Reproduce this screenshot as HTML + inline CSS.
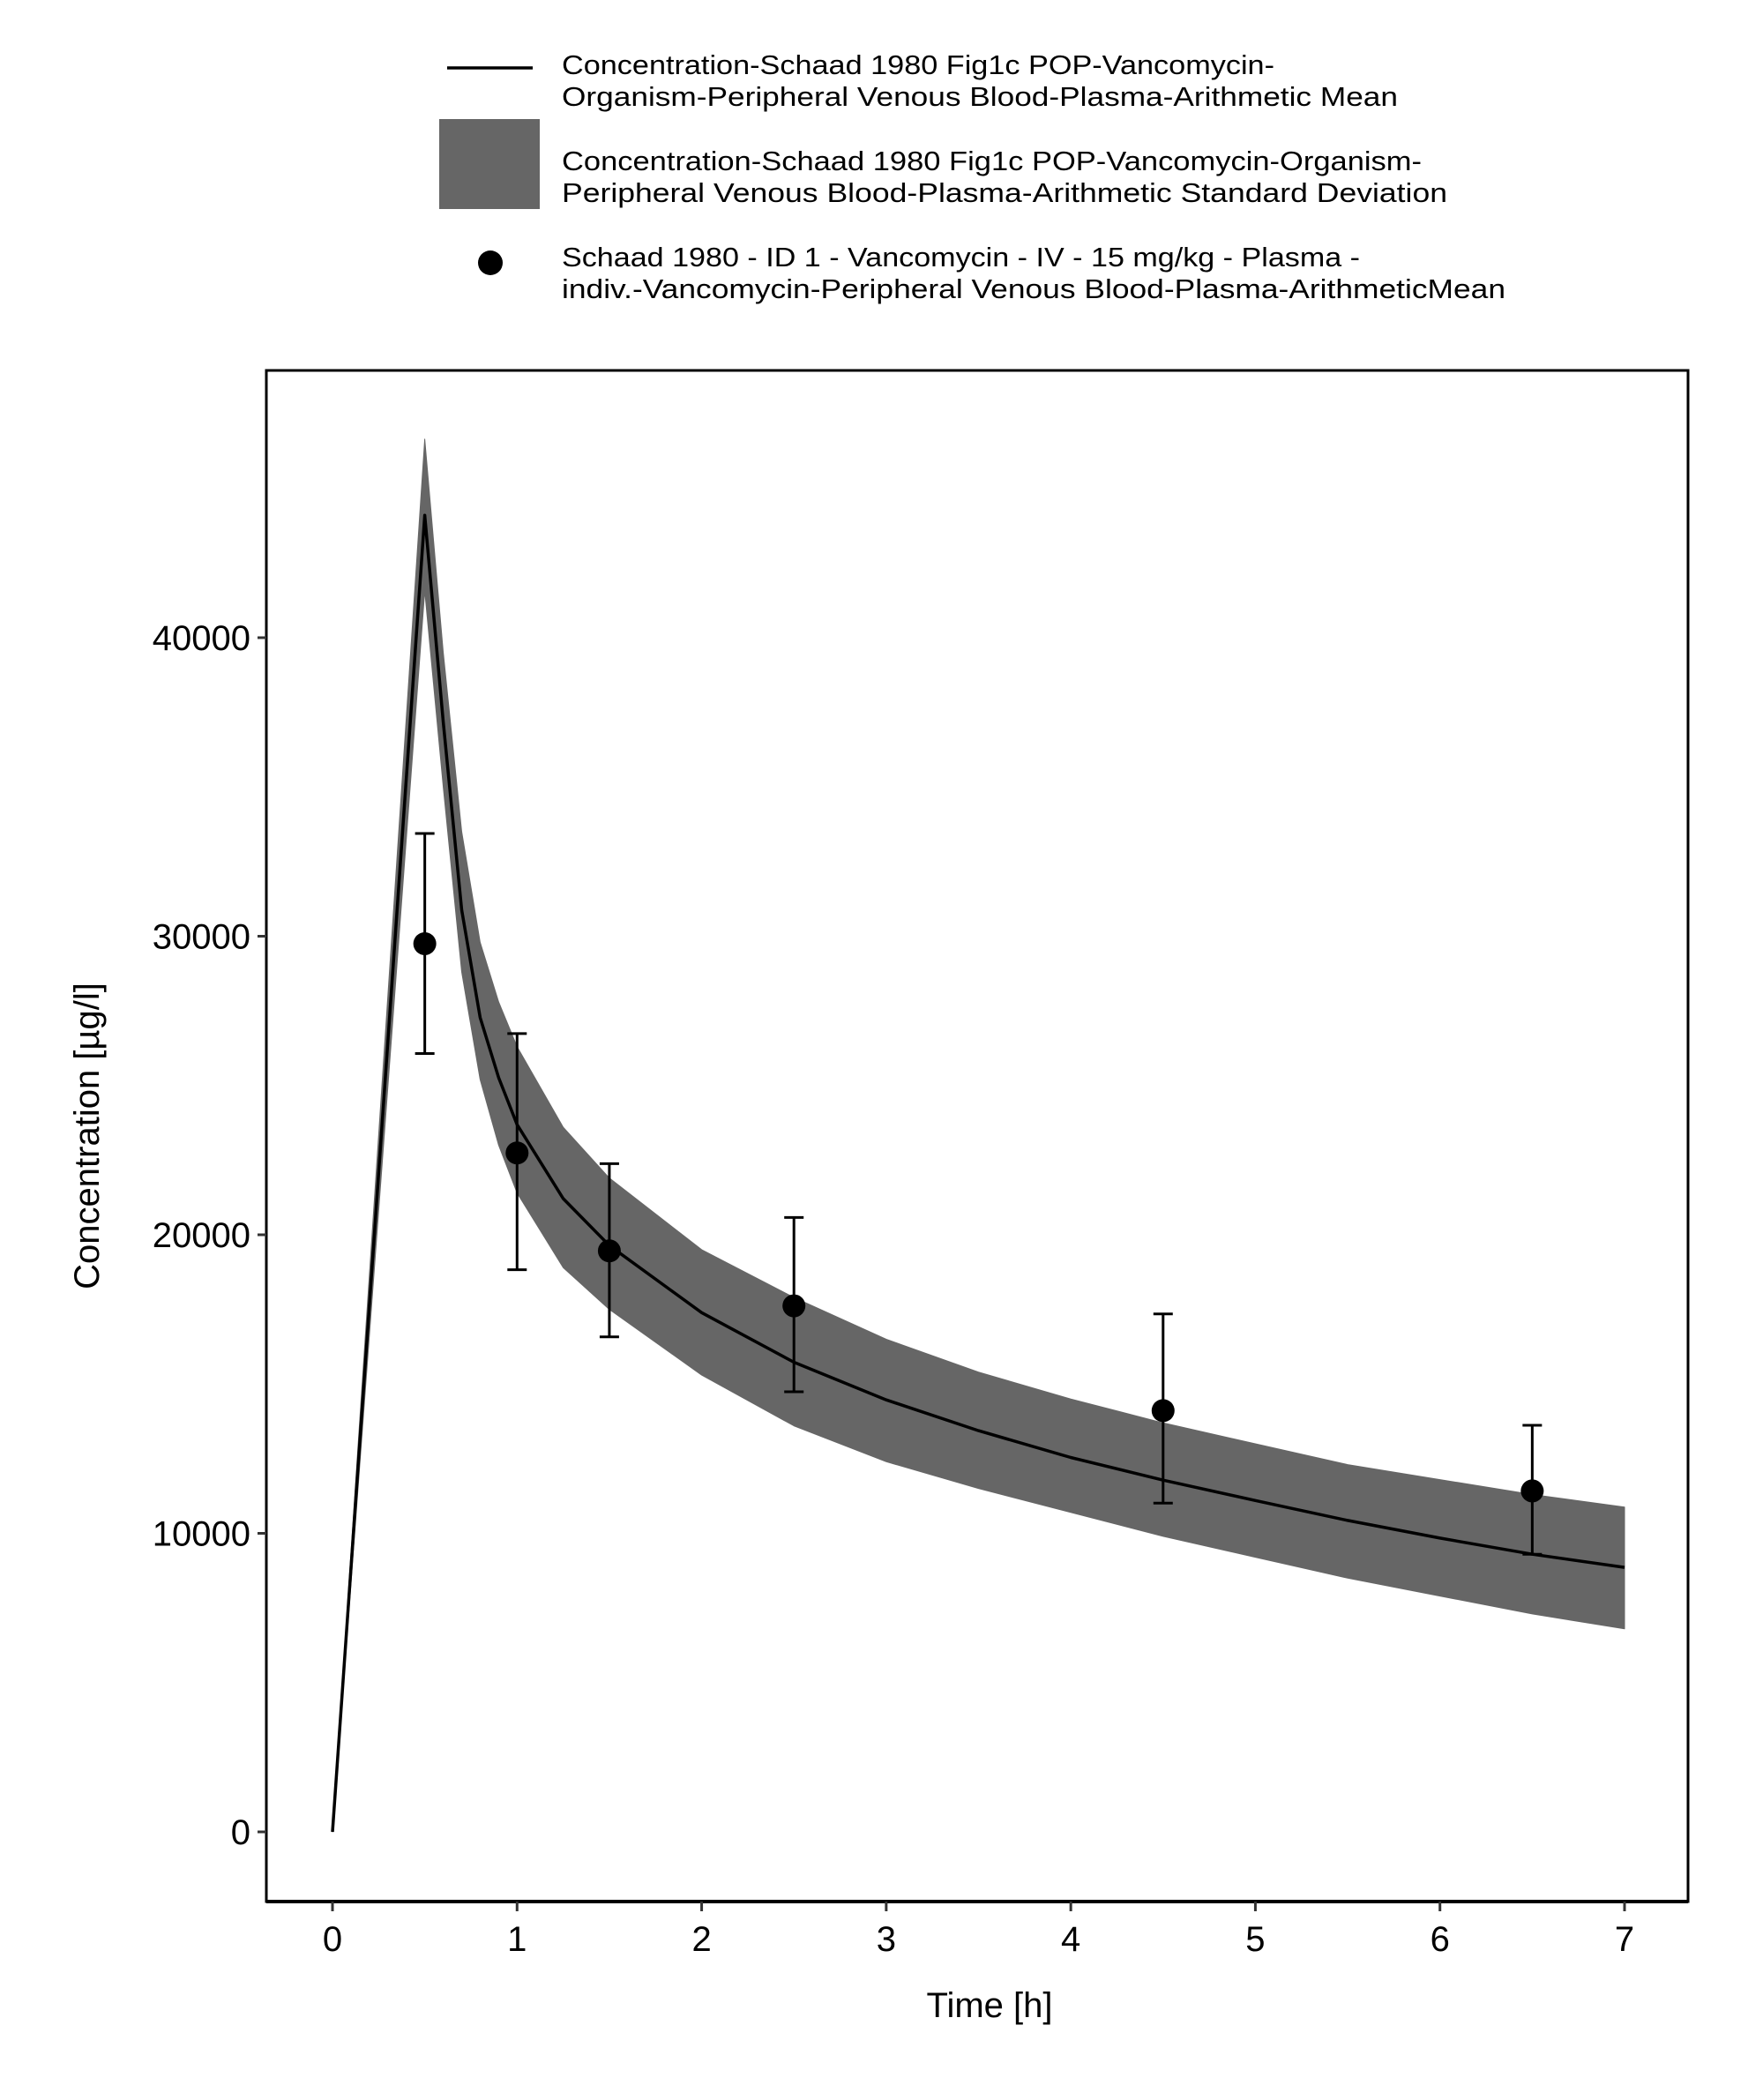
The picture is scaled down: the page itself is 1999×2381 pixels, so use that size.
<!DOCTYPE html>
<html><head><meta charset="utf-8"><style>
html,body{margin:0;padding:0;background:#fff;}
svg{display:block;font-family:"Liberation Sans","DejaVu Sans",sans-serif;}
</style></head><body>
<svg id="chart" width="1999" height="2381" viewBox="0 0 1999 2381" xmlns="http://www.w3.org/2000/svg">
<g>
  <line x1="507" y1="77" x2="604" y2="77" stroke="#000" stroke-width="3.5"/>
  <text x="637" y="84" font-size="31" textLength="808" lengthAdjust="spacingAndGlyphs">Concentration-Schaad 1980 Fig1c POP-Vancomycin-</text>
  <text x="637" y="120" font-size="31" textLength="948" lengthAdjust="spacingAndGlyphs">Organism-Peripheral Venous Blood-Plasma-Arithmetic Mean</text>
  <rect x="498" y="135" width="114" height="102" fill="#666666"/>
  <text x="637" y="193" font-size="31" textLength="975" lengthAdjust="spacingAndGlyphs">Concentration-Schaad 1980 Fig1c POP-Vancomycin-Organism-</text>
  <text x="637" y="229" font-size="31" textLength="1004" lengthAdjust="spacingAndGlyphs">Peripheral Venous Blood-Plasma-Arithmetic Standard Deviation</text>
  <circle cx="556" cy="298" r="14" fill="#000"/>
  <text x="637" y="302" font-size="31" textLength="905" lengthAdjust="spacingAndGlyphs">Schaad 1980 - ID 1 - Vancomycin - IV - 15 mg/kg - Plasma -</text>
  <text x="637" y="338" font-size="31" textLength="1070" lengthAdjust="spacingAndGlyphs">indiv.-Vancomycin-Peripheral Venous Blood-Plasma-ArithmeticMean</text>
</g>
<g id="plot"></g>
<text x="1122" y="2287" font-size="40" text-anchor="middle">Time [h]</text>
<text transform="translate(112,1288) rotate(-90)" font-size="40" text-anchor="middle">Concentration [µg/l]</text>
</svg>
<script>
const simTimes = [0,0.5,0.6,0.7,0.8,0.9,1,1.25,1.5,2,2.5,3,3.5,4,4.5,5,5.5,6,6.5,7];
const simMean  = [0,44100,37170,30880,27280,25260,23690,21210,19640,17390,15730,14470,13440,12540,11780,11100,10430,9840,9300,8860];
const simUpper = [0,46650,39500,33500,29800,27800,26300,23600,21900,19500,17900,16500,15400,14500,13700,13000,12300,11800,11300,10880];
const simLower = [0,41570,35000,28800,25200,23000,21400,18900,17500,15300,13600,12400,11500,10700,9900,9200,8500,7900,7300,6800];
const obsTimes = [0.5,1,1.5,2.5,4.5,6.5];
const obsMean  = [29750,22740,19460,17620,14110,11420];
const obsHigh  = [33440,26740,22380,20580,17350,13620];
const obsLow   = [26070,18830,16580,14740,11010,9300];
const xTicks = [0,1,2,3,4,5,6,7];
const yTicks = [0,10000,20000,30000,40000];

const NS = "http://www.w3.org/2000/svg";
const L=302, R=1914, T=420, B=2156;
const xs = t => 377 + t*(1842-377)/7;
const ys = v => 2077 - v*(2077-723)/40000;
const g = document.getElementById('plot');
function mk(tag, attrs){const e=document.createElementNS(NS,tag);for(const k in attrs)e.setAttribute(k,attrs[k]);g.appendChild(e);return e;}

let d = simTimes.map((t,i)=>(i?'L':'M')+xs(t).toFixed(1)+','+ys(simUpper[i]).toFixed(1)).join(' ');
for(let i=simTimes.length-1;i>=0;i--) d+=' L'+xs(simTimes[i]).toFixed(1)+','+ys(simLower[i]).toFixed(1);
const band = mk('path',{d:d+' Z',fill:'#666666',stroke:'#666666','stroke-width':'1','stroke-linejoin':'round'});



const line = mk('polyline',{points:simTimes.map((t,i)=>xs(t).toFixed(1)+','+ys(simMean[i]).toFixed(1)).join(' '),fill:'none',stroke:'#000','stroke-width':'3.5','stroke-linejoin':'round'});



obsTimes.forEach((t,i)=>{
  const x=xs(t);
  const eb = mk('path',{d:`M${x-11},${ys(obsHigh[i])} H${x+11} M${x},${ys(obsHigh[i])} V${ys(obsLow[i])} M${x-11},${ys(obsLow[i])} H${x+11}`,stroke:'#000','stroke-width':'3',fill:'none'});
  
  
  const c = mk('circle',{cx:x,cy:ys(obsMean[i]),r:13,fill:'#000'});
  
  
});

const frame = mk('rect',{x:L,y:T,width:R-L,height:B-T,fill:'none',stroke:'#000','stroke-width':'3'});


const xaxis = mk('line',{x1:L,y1:B,x2:R,y2:B,stroke:'#000','stroke-width':'4'});



xTicks.forEach(t=>{
  const tk = mk('line',{x1:xs(t),y1:B,x2:xs(t),y2:B+11,stroke:'#333','stroke-width':'3'});
  
  
  const lb = mk('text',{x:xs(t),y:2212,'font-size':'40','text-anchor':'middle'});
  lb.textContent=t;
  
  
});
yTicks.forEach(v=>{
  const tk = mk('line',{x1:L-10,y1:ys(v),x2:L,y2:ys(v),stroke:'#333','stroke-width':'3'});
  
  
  const lb = mk('text',{x:284,y:ys(v)+14,'font-size':'40','text-anchor':'end'});
  lb.textContent=v;
  
  
});
</script>
</body></html>
